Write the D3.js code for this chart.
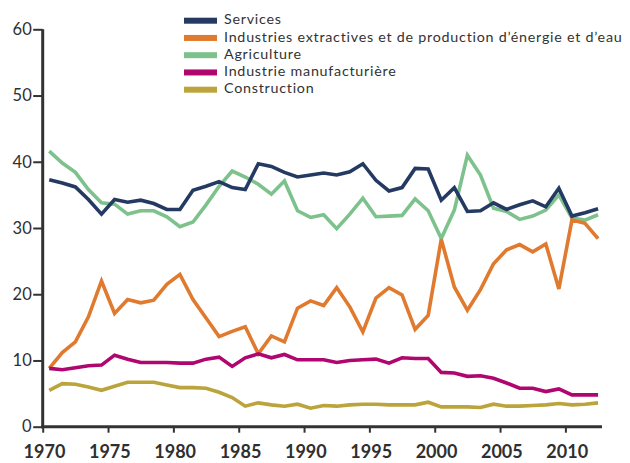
<!DOCTYPE html>
<meta charset="utf-8">
<style>
  body { margin: 0; background: #fff; }
  svg { font-family: Lato, "Open Sans", sans-serif; }
  .tick text { fill: #2f2f2f; }
</style>
<svg id="chart" width="630" height="463"></svg>
<script src="https://d3js.org/d3.v7.min.js"></script>
<script>
// Years (one value per year, drawn at mid-year)
var years = d3.range(1970, 2013);

var services = [37.3, 36.8, 36.2, 34.3, 32.1, 34.3, 33.9, 34.2, 33.7, 32.8,
  32.8, 35.7, 36.3, 37.0, 36.1, 35.8, 39.7, 39.3, 38.4, 37.7,
  38.0, 38.3, 38.0, 38.5, 39.7, 37.2, 35.6, 36.1, 39.0, 38.9,
  34.2, 36.1, 32.5, 32.6, 33.8, 32.8, 33.5, 34.1, 33.2, 36.0,
  31.8, 32.3, 32.9];

var extractives = [8.8, 11.2, 12.8, 16.6, 22.0, 17.1, 19.2, 18.7, 19.1, 21.5,
  23.0, 19.2, 16.4, 13.6, 14.4, 15.1, 11.0, 13.7, 12.8, 17.9,
  19.0, 18.3, 21.0, 18.1, 14.3, 19.4, 21.0, 19.9, 14.7, 16.8,
  28.3, 21.1, 17.6, 20.7, 24.6, 26.7, 27.5, 26.4, 27.6, 20.8,
  31.2, 30.7, 28.4];

var agriculture = [41.6, 39.8, 38.4, 35.8, 33.8, 33.6, 32.1, 32.6, 32.6, 31.7,
  30.2, 30.9, 33.5, 36.3, 38.6, 37.7, 36.6, 35.1, 37.1, 32.6,
  31.6, 32.0, 29.9, 32.1, 34.5, 31.7, 31.8, 31.9, 34.4, 32.6,
  28.4, 32.7, 41.0, 38.0, 33.0, 32.5, 31.3, 31.8, 32.7, 35.0,
  31.5, 31.2, 32.0];

var manufacturiere = [8.8, 8.6, 8.9, 9.2, 9.3, 10.8, 10.2, 9.7, 9.7, 9.7,
  9.6, 9.6, 10.2, 10.5, 9.1, 10.4, 11.0, 10.4, 10.9, 10.1,
  10.1, 10.1, 9.7, 10.0, 10.1, 10.2, 9.6, 10.4, 10.3, 10.3,
  8.2, 8.1, 7.6, 7.7, 7.3, 6.6, 5.8, 5.8, 5.3, 5.7,
  4.8, 4.8, 4.8];

var construction = [5.5, 6.5, 6.4, 6.0, 5.5, 6.1, 6.7, 6.7, 6.7, 6.3,
  5.9, 5.9, 5.8, 5.2, 4.4, 3.1, 3.6, 3.3, 3.1, 3.4,
  2.8, 3.2, 3.1, 3.3, 3.4, 3.4, 3.3, 3.3, 3.3, 3.7,
  3.0, 3.0, 3.0, 2.9, 3.4, 3.1, 3.1, 3.2, 3.3, 3.5,
  3.3, 3.4, 3.6];

var seriesNames = ["Services",
  "Industries extractives et de production d\u2019\u00e9nergie et d\u2019eau",
  "Agriculture",
  "Industrie manufacturi\u00e8re",
  "Construction"];
var seriesColors = ["#243a63", "#e07a2f", "#7dc28c", "#b0066f", "#bba43b"];
var seriesValues = [services, extractives, agriculture, manufacturiere, construction];

var xTicks = [1970, 1975, 1980, 1985, 1990, 1995, 2000, 2005, 2010];
var yTicks = [0, 10, 20, 30, 40, 50, 60];

// ---------------------------------------------------------------------------
var svg = d3.select("#chart");

var x = d3.scaleLinear().domain([1970, 2013]).range([42.7, 604.6]);
var y = d3.scaleLinear().domain([0, 60]).range([426.7, 29.3]);

// Lines (Services drawn last so it sits on top)
var line = d3.line()
    .x(function(d, i) { return x(years[i] + 0.5); })
    .y(function(d) { return y(d); });

var order = [2, 1, 4, 3, 0];
order.forEach(function(k) {
  svg.append("path")
      .datum(seriesValues[k])
      .attr("fill", "none")
      .attr("stroke", seriesColors[k])
      .attr("stroke-width", 3.6)
      .attr("stroke-linejoin", "miter")
      .attr("d", line);
});

// Y axis
var yAxis = svg.append("g")
    .attr("transform", "translate(" + x(1970) + ",0)")
    .call(d3.axisLeft(y).tickValues(yTicks).tickSize(9.5).tickPadding(1.5));
yAxis.select(".domain").remove();
yAxis.selectAll(".tick line").attr("stroke", "#333").attr("stroke-width", 2);
yAxis.selectAll(".tick text")
    .attr("font-size", 16.5)
    .attr("font-family", "Lato, sans-serif");
yAxis.append("line")
    .attr("x1", 0).attr("x2", 0)
    .attr("y1", y(60)).attr("y2", y(0) + 1.5)
    .attr("stroke", "#333").attr("stroke-width", 3);

// X axis
var xAxis = svg.append("g")
    .attr("transform", "translate(0," + y(0) + ")")
    .call(d3.axisBottom(x).tickValues(xTicks).tickSize(6).tickPadding(13)
      .tickFormat(d3.format("d")));
xAxis.select(".domain").remove();
xAxis.selectAll(".tick line").attr("stroke", "#333").attr("stroke-width", 2);
xAxis.selectAll(".tick text")
    .attr("font-size", 18)
    .attr("font-weight", 700)
    .attr("dx", 1.3)
    .attr("font-family", "Lato, sans-serif");
xAxis.append("line")
    .attr("x1", x(1970) - 1.5).attr("x2", x(2012.8))
    .attr("y1", 0).attr("y2", 0)
    .attr("stroke", "#333").attr("stroke-width", 3);

// Legend
var legend = svg.append("g").attr("transform", "translate(184,20.7)");
var rows = legend.selectAll("g")
    .data(seriesNames)
    .enter().append("g")
    .attr("transform", function(d, i) { return "translate(0," + i * 17.25 + ")"; });
rows.append("rect")
    .attr("x", 0).attr("y", -3)
    .attr("width", 33).attr("height", 6)
    .attr("fill", function(d, i) { return seriesColors[i]; });
rows.append("text")
    .attr("x", 40).attr("y", 3.6)
    .attr("font-size", 14.3)
    .attr("letter-spacing", 0.75)
    .attr("fill", "#333")
    .text(function(d) { return d; });
</script>
